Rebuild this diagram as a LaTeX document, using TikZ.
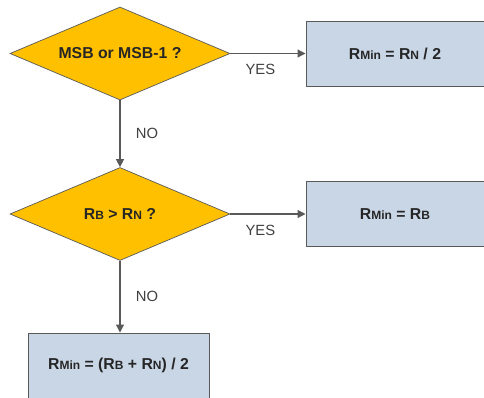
\documentclass[tikz,border=0pt]{standalone}
\usepackage{fontspec}
\setmainfont{Liberation Sans}
\usetikzlibrary{shapes.geometric, arrows.meta}
\definecolor{decisionfill}{HTML}{FFC000}
\definecolor{resultfill}{HTML}{C9D6E5}
\definecolor{edgegray}{HTML}{595959}
\newcommand{\subtxt}[1]{{\fontsize{12}{13}\selectfont #1}}
\tikzset{decision/.style={diamond, draw=edgegray, fill=decisionfill, line width=0.7pt, aspect=2.37, minimum width=220pt, minimum height=93pt, inner sep=0pt, font=\fontsize{15.8}{18}\selectfont\bfseries, text=black!85}}
\tikzset{result/.style={rectangle, draw=edgegray, fill=resultfill, line width=1pt, minimum width=178pt, minimum height=65pt, inner sep=0pt, font=\fontsize{15.8}{18}\selectfont\bfseries, text=black!85}}
\tikzset{flow/.style={draw=edgegray, line width=1.2pt, -{Triangle[width=8pt, length=8pt]}}}
\tikzset{answer/.style={font=\fontsize{14.8}{17}\selectfont, text=black!75}}

\begin{document}
\begin{tikzpicture}[x=1pt, y=-1pt]
    \useasboundingbox (0,0) rectangle (484,397);
    \node[decision] (msb) at (120,53.5) {MSB or MSB-1 ?};
    \node[decision] (cmp) at (120,214) {R\subtxt{B} > R\subtxt{N} ?};
    \node[result] (half) at (395,53.5) {R\subtxt{Min} = R\subtxt{N} / 2};
    \node[result] (rb) at (395,214) {R\subtxt{Min} = R\subtxt{B}};
    \node[result, minimum width=181pt] (avg) at (118.5,365.5) {R\subtxt{Min} = (R\subtxt{B} + R\subtxt{N}) / 2};
    \draw[flow] (msb.east) -- (half.west) node[pos=0.4, below=7pt, answer] {YES};
    \draw[flow] (cmp.east) -- (rb.west) node[pos=0.4, below=7pt, answer] {YES};
    \draw[flow] (msb.south) -- (cmp.north) node[midway, right=12pt, answer] {NO};
    \draw[flow] (cmp.south) -- (cmp.south |- avg.north) node[midway, right=12pt, answer] {NO};
\end{tikzpicture}
\end{document}
